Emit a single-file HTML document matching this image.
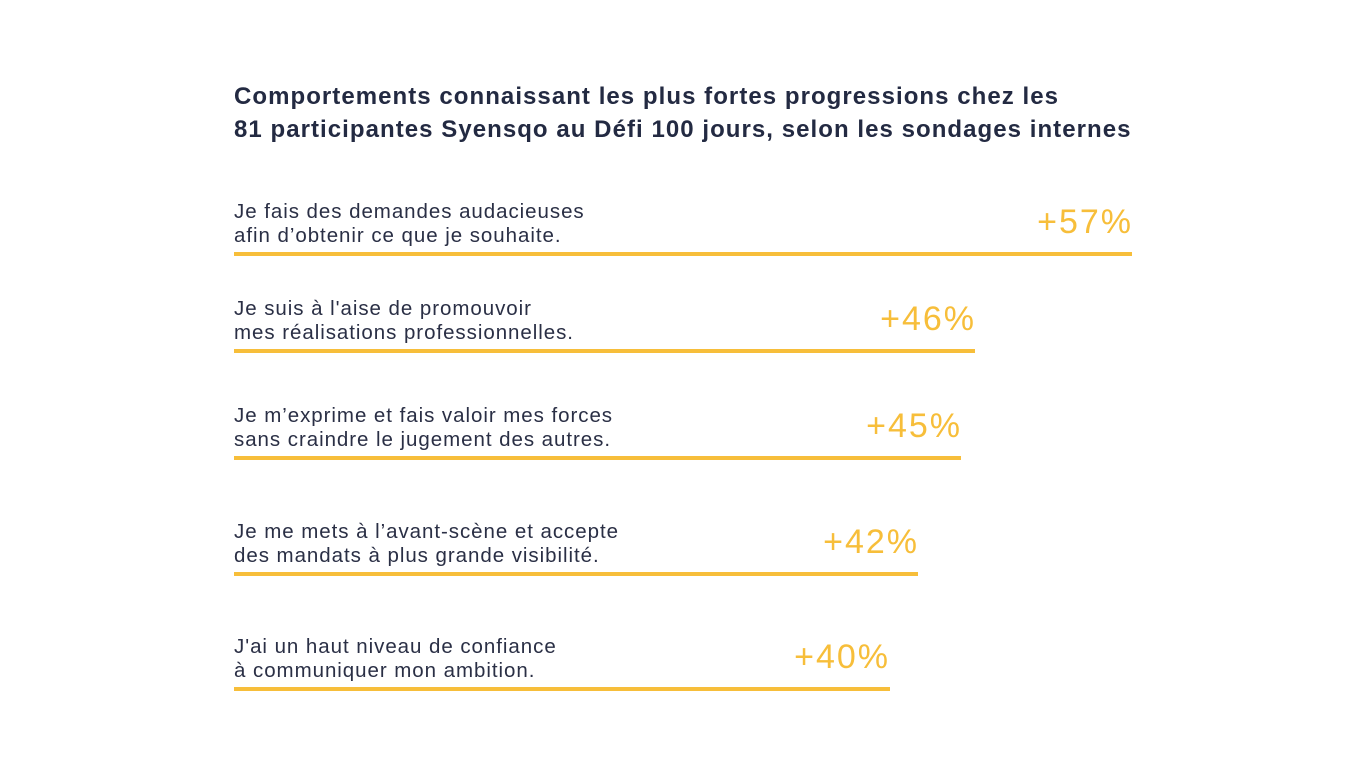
<!DOCTYPE html>
<html><head><meta charset="utf-8"><style>
body{margin:0;width:1366px;height:768px;background:#fff;position:relative;overflow:hidden;font-family:"Liberation Sans",sans-serif;color:#2a2f45}
.t{position:absolute;left:234px;top:80px;font-size:24px;font-weight:bold;line-height:33px;color:#232a42;letter-spacing:1.05px;white-space:nowrap}
.l{position:absolute;left:234px;font-size:20.5px;line-height:24px;white-space:nowrap;letter-spacing:0.95px}
.n{position:absolute;font-size:34px;line-height:40px;color:#F7BE3A;text-align:right;width:200px;letter-spacing:2px;margin-right:-2px}
.b{position:absolute;left:234px;height:4px;background:#F7BE3A}
</style></head><body>
<div class="t">Comportements connaissant les plus fortes progressions chez les<br>81 participantes Syensqo au Défi 100 jours, selon les sondages internes</div>

<div class="l" style="top:200px">Je fais des demandes audacieuses<br>afin d’obtenir ce que je souhaite.</div>
<div class="n" style="top:202px;left:933px">+57%</div>
<div class="b" style="top:252px;width:898px"></div>

<div class="l" style="top:297px">Je suis à l'aise de promouvoir<br>mes réalisations professionnelles.</div>
<div class="n" style="top:299px;left:776px">+46%</div>
<div class="b" style="top:349px;width:741px"></div>

<div class="l" style="top:404px">Je m’exprime et fais valoir mes forces<br>sans craindre le jugement des autres.</div>
<div class="n" style="top:406px;left:762px">+45%</div>
<div class="b" style="top:456px;width:727px"></div>

<div class="l" style="top:520px">Je me mets à l’avant-scène et accepte<br>des mandats à plus grande visibilité.</div>
<div class="n" style="top:522px;left:719px">+42%</div>
<div class="b" style="top:572px;width:684px"></div>

<div class="l" style="top:635px">J'ai un haut niveau de confiance<br>à communiquer mon ambition.</div>
<div class="n" style="top:637px;left:690px">+40%</div>
<div class="b" style="top:687px;width:656px"></div>
</body></html>
